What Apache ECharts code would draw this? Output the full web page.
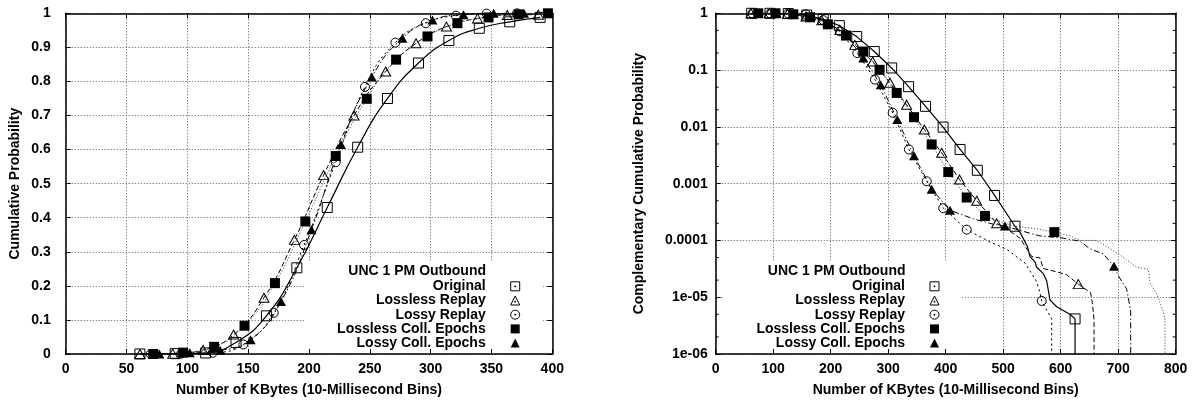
<!DOCTYPE html>
<html>
<head>
<meta charset="utf-8">
<script src="https://cdn.jsdelivr.net/npm/echarts@6/dist/echarts.min.js"></script>
<style>
  html, body { margin: 0; padding: 0; background: #fff; }
  #chart { width: 1196px; height: 402px; }
</style>
</head>
<body>
<div id="chart"></div>
<script>
// ---- Series names and legend heading ----
const seriesNames = ['Original', 'Lossless Replay', 'Lossy Replay', 'Lossless Coll. Epochs', 'Lossy Coll. Epochs'];
const legendTitle = 'UNC 1 PM Outbound';
const xAxisTitle = 'Number of KBytes (10-Millisecond Bins)';
const cdfAxisTitle = 'Cumulative Probability';
const ccdfAxisTitle = 'Complementary Cumulative Probability';

// ---- Left panel: cumulative distribution, [KBytes, probability] ----
const cdfOriginal = [[61, 0], [90, 0.001], [115, 0.003], [140, 0.034], [165, 0.112], [190, 0.253], [215, 0.43], [240, 0.607], [264.5, 0.75], [290, 0.854], [315, 0.92], [340, 0.956], [365, 0.975], [390, 0.988]];
const cdfLosslessReplay = [[61, 0], [88, 0.001], [113, 0.012], [138, 0.057], [163, 0.165], [188, 0.335], [212, 0.525], [237, 0.7], [263, 0.829], [288, 0.912], [313, 0.961], [338.5, 0.985], [363, 0.995], [388.5, 0.996]];
const cdfLossyReplay = [[70, 0], [95, 0.001], [121, 0.004], [146, 0.028], [171, 0.121], [196, 0.32], [222, 0.563], [246, 0.784], [271, 0.914], [296, 0.971], [320.7, 0.993], [346, 0.999], [371, 1]];
const cdfLosslessEpochs = [[72, 0], [96.5, 0.004], [122, 0.021], [147, 0.083], [172, 0.208], [197, 0.389], [222, 0.581], [247.5, 0.749], [271.6, 0.864], [297.4, 0.932], [322, 0.971], [347.6, 0.988], [372.3, 0.997], [396.4, 1]];
const cdfLossyEpochs = [[77, 0], [102, 0.004], [127, 0.011], [152, 0.042], [177, 0.154], [202, 0.365], [226.3, 0.615], [251.6, 0.813], [276.8, 0.927], [301.5, 0.98], [327, 0.996], [351.8, 1], [376.7, 1]];

// ---- Right panel: complementary CDF, curves ----
// (a final point far below the axis minimum makes each curve drop to the bottom edge)
const ccdfOriginalLine = [[62.6, 1], [94.4, 1], [126.3, 0.99], [158.3, 0.93], [187, 0.78], [215, 0.606], [245.2, 0.389], [275.8, 0.212], [306, 0.109], [335.5, 0.051], [365, 0.023], [395.5, 0.0099], [425, 0.004], [455, 0.00172], [485, 0.00062], [503, 0.00033], [520.5, 0.000178], [529, 0.00014], [542, 7.9e-5], [546.6, 5.2e-5], [555.3, 4.2e-5], [558, 3.4e-5], [569.8, 2.6e-5], [575.6, 1.95e-5], [581.4, 8.9e-6], [593, 6.8e-6], [616, 5e-6], [625, 4.15e-6], [625, 1e-8]];
const ccdfLosslessReplayLine = [[61.4, 1], [93, 1], [125, 0.985], [157, 0.88], [184.5, 0.75], [216, 0.51], [242, 0.278], [273, 0.142], [303, 0.06], [332, 0.0246], [362.8, 0.009], [393, 0.0035], [424, 0.00118], [454, 0.0005], [488.7, 0.0002], [511.8, 0.000145], [529, 0.00011], [549.6, 5.2e-5], [564, 4.9e-5], [569.8, 3.2e-5], [593, 2.8e-5], [610, 2.5e-5], [630.6, 1.7e-5], [652, 1.2e-5], [655, 8e-6], [658, 4e-6], [658, 1e-8]];
const ccdfLossyReplayLine = [[64, 1], [95, 1], [126, 0.995], [157, 0.96], [187, 0.76], [216, 0.48], [246.3, 0.199], [277, 0.068], [307.8, 0.0177], [336, 0.004], [367, 0.0011], [395.8, 0.00037], [436.5, 0.000155], [477, 9.4e-5], [506, 7e-5], [538, 4e-5], [558, 1.9e-5], [564, 1.2e-5], [567, 8.6e-6], [575.6, 5.9e-6], [584.3, 4.2e-6], [584.3, 1e-8]];
const ccdfLosslessEpochsLine = [[74, 1], [104, 1], [135, 0.96], [164, 0.85], [195, 0.64], [226.6, 0.405], [256.7, 0.212], [285, 0.101], [314.8, 0.0396], [344.9, 0.0148], [375.6, 0.0049], [404.5, 0.0016], [436.5, 0.00057], [468.3, 0.00027], [517.6, 0.00018], [558, 0.00016], [589, 0.00014], [616, 0.00012], [633.6, 0.0001], [662.6, 0.0001], [700, 5.8e-5], [732, 3.4e-5], [752.3, 3.1e-5], [755.3, 1.8e-5], [767, 1.15e-5], [778.6, 5.5e-6], [781.4, 4.2e-6], [781.4, 1e-8]];
const ccdfLossyEpochsLine = [[106, 1], [136, 0.98], [166, 0.9], [196, 0.69], [226.5, 0.41], [256.7, 0.163], [287, 0.055], [315.8, 0.0135], [344.9, 0.0031], [375.6, 0.0008], [407.5, 0.00034], [448, 0.00024], [482.8, 0.000193], [503, 0.00018], [529, 0.00015], [564, 0.00012], [598.8, 0.000112], [633.6, 9.7e-5], [651, 7.1e-5], [674, 5.8e-5], [692.7, 3.5e-5], [700, 2.4e-5], [714.6, 1.4e-5], [717.5, 1e-5], [721.7, 5.5e-6], [721.7, 1e-8]];

// ---- Right panel: marked sample points ----
const ccdfOriginalMarks = [[62.6, 1], [94.4, 1], [126.3, 0.99], [158.3, 0.93], [187, 0.78], [215, 0.606], [245.2, 0.389], [275.8, 0.212], [306, 0.109], [335.5, 0.051], [365, 0.023], [395.5, 0.0099], [425, 0.004], [455, 0.00172], [485, 0.00062], [520.5, 0.000178], [625, 4.15e-6]];
const ccdfLosslessReplayMarks = [[61.4, 1], [93, 1], [125, 0.985], [157, 0.88], [184.5, 0.75], [216, 0.51], [242, 0.278], [273, 0.142], [303, 0.06], [332, 0.0246], [362.8, 0.009], [393, 0.0035], [424, 0.00118], [454, 0.0005], [488.7, 0.0002], [630.6, 1.7e-5]];
const ccdfLossyReplayMarks = [[64, 1], [95, 1], [126, 0.995], [157, 0.96], [187, 0.76], [216, 0.48], [246.3, 0.199], [277, 0.068], [307.8, 0.0177], [336, 0.004], [367, 0.0011], [395.8, 0.00037], [436.5, 0.000155], [567, 8.6e-6]];
const ccdfLosslessEpochsMarks = [[74, 1], [104, 1], [135, 0.96], [164, 0.85], [195, 0.64], [226.6, 0.405], [256.7, 0.212], [285, 0.101], [314.8, 0.0396], [344.9, 0.0148], [375.6, 0.0049], [404.5, 0.0016], [436.5, 0.00057], [468.3, 0.00027], [589, 0.00014]];
const ccdfLossyEpochsMarks = [[106, 1], [136, 0.98], [166, 0.9], [196, 0.69], [226.5, 0.41], [256.7, 0.163], [287, 0.055], [315.8, 0.0135], [344.9, 0.0031], [375.6, 0.0008], [407.5, 0.00034], [503, 0.00018], [692.7, 3.5e-5]];

// ---- Axis tick labels ----
const ccdfTickLabels = ['1e-06', '1e-05', '0.0001', '0.001', '0.01', '0.1', '1'];
const ccdfMinorTicks = [2e-6, 5e-6, 2e-5, 5e-5, 2e-4, 5e-4, 2e-3, 5e-3, 0.02, 0.05, 0.2, 0.5];

const cdfData = [cdfOriginal, cdfLosslessReplay, cdfLossyReplay, cdfLosslessEpochs, cdfLossyEpochs];
const ccdfLines = [ccdfOriginalLine, ccdfLosslessReplayLine, ccdfLossyReplayLine, ccdfLosslessEpochsLine, ccdfLossyEpochsLine];
const ccdfMarks = [ccdfOriginalMarks, ccdfLosslessReplayMarks, ccdfLossyReplayMarks, ccdfLosslessEpochsMarks, ccdfLossyEpochsMarks];

// ---- Presentation ----
const FONT = '"Liberation Sans", Arial, Helvetica, sans-serif';
const HOLLOW = 'rgba(0,0,0,0)';
const looks = [
  { dash: 'solid', color: '#000', width: 1.2, symbol: 'rect', size: 10, fill: HOLLOW, border: 1,
    icon: 'path://M0,0H10V10H0Z M4.5,4.5H5.5V5.5H4.5Z', iconStyle: { color: '#fff', borderColor: '#000', borderWidth: 1 } },
  { dash: [5, 2.6], color: '#000', width: 1, symbol: 'triangle', size: [10, 9], fill: HOLLOW, border: 1,
    icon: 'path://M5,0L10,10L0,10Z M4.5,5.8H5.5V6.8H4.5Z', iconStyle: { color: '#fff', borderColor: '#000', borderWidth: 1 } },
  { dash: [2.2, 3], color: '#000', width: 1, symbol: 'circle', size: 9, fill: HOLLOW, border: 1,
    icon: 'path://M0,5A5,5,0,1,1,10,5A5,5,0,1,1,0,5Z M4.5,4.5H5.5V5.5H4.5Z', iconStyle: { color: '#fff', borderColor: '#000', borderWidth: 1 } },
  { dash: [1.2, 1.8], color: '#555', width: 1, symbol: 'rect', size: 10, fill: '#000', border: 0,
    icon: 'rect', iconStyle: { color: '#000', borderWidth: 0 } },
  { dash: [6, 2.5, 1.3, 2.5], color: '#000', width: 1, symbol: 'triangle', size: [10, 9], fill: '#000', border: 0,
    icon: 'triangle', iconStyle: { color: '#000', borderWidth: 0 } }
];

const textBase = { fontFamily: FONT, fontWeight: 'bold', fontSize: 14, color: '#000' };
const gridLine = { show: true, lineStyle: { color: '#555', type: [1, 2], width: 1 } };
const frameLine = { show: true, onZero: false, lineStyle: { color: '#000', width: 1.5 } };
const majorTick = { show: true, inside: true, length: 5, lineStyle: { color: '#000', width: 1 } };

function valueAxis(grid, pos, min, max, interval, extra) {
  return Object.assign({
    type: 'value', gridIndex: grid, position: pos, min: min, max: max, interval: interval,
    axisLine: frameLine, axisTick: majorTick, splitLine: { show: false },
    axisLabel: { show: false }
  }, extra || {});
}
function logAxis(grid, pos, extra) {
  return Object.assign({
    type: 'log', logBase: 10, gridIndex: grid, position: pos, min: 1e-6, max: 1, splitNumber: 6,
    axisLine: frameLine, axisTick: majorTick, splitLine: { show: false }, minorTick: { show: false },
    axisLabel: { show: false }
  }, extra || {});
}

const xAxes = [
  valueAxis(0, 'bottom', 0, 400, 50, {
    splitLine: gridLine,
    axisLabel: Object.assign({ show: true, margin: 8 }, textBase),
    name: xAxisTitle, nameLocation: 'middle', nameGap: 29, nameTextStyle: textBase
  }),
  valueAxis(0, 'top', 0, 400, 50),
  valueAxis(1, 'bottom', 0, 800, 100, {
    splitLine: gridLine,
    axisLabel: Object.assign({ show: true, margin: 8 }, textBase),
    name: xAxisTitle, nameLocation: 'middle', nameGap: 29, nameTextStyle: textBase
  }),
  valueAxis(1, 'top', 0, 800, 100)
];
const yAxes = [
  valueAxis(0, 'left', 0, 1, 0.1, {
    splitLine: gridLine,
    axisLabel: Object.assign({ show: true, margin: 15 }, textBase),
    name: cdfAxisTitle, nameLocation: 'middle', nameGap: 44, nameRotate: 90, nameTextStyle: textBase
  }),
  valueAxis(0, 'right', 0, 1, 0.1),
  logAxis(1, 'left', {
    splitLine: gridLine,
    axisLabel: Object.assign({
      show: true, margin: 8,
      formatter: function (v) { return ccdfTickLabels[Math.round(Math.log10(v)) + 6]; }
    }, textBase),
    name: ccdfAxisTitle, nameLocation: 'middle', nameGap: 70, nameRotate: 90, nameTextStyle: textBase
  }),
  logAxis(1, 'right')
];

const series = [];
seriesNames.forEach(function (name, i) {
  const lk = looks[i];
  // cumulative curve with its sample markers
  series.push({
    type: 'line', name: name, xAxisIndex: 0, yAxisIndex: 0, data: cdfData[i],
    smooth: 0.5, showSymbol: true, showAllSymbol: true,
    symbol: lk.symbol, symbolSize: lk.size,
    itemStyle: { color: lk.fill, borderColor: '#000', borderWidth: lk.border },
    lineStyle: { color: lk.color, width: lk.width, type: lk.dash },
    emphasis: { disabled: true }, z: 2
  });
  // complementary curve
  series.push({
    type: 'line', name: name, xAxisIndex: 2, yAxisIndex: 2, data: ccdfLines[i],
    showSymbol: false, lineStyle: { color: lk.color, width: lk.width, type: lk.dash },
    emphasis: { disabled: true }, z: 2
  });
  // complementary markers
  series.push({
    type: 'scatter', name: name, xAxisIndex: 2, yAxisIndex: 2, data: ccdfMarks[i],
    symbol: lk.symbol, symbolSize: lk.size,
    itemStyle: { color: lk.fill, borderColor: '#000', borderWidth: lk.border, opacity: 1 },
    emphasis: { disabled: true }, z: 3
  });
});

// minor ticks of the logarithmic axis (2 and 5 of each decade), on both edges
series.push({
  type: 'custom', name: 'minor-ticks', xAxisIndex: 2, yAxisIndex: 2, silent: true, clip: false,
  data: ccdfMinorTicks.map(function (v) { return [0, v]; }),
  renderItem: function (params, api) {
    const v = api.value(1);
    const a = api.coord([0, v]);
    const b = api.coord([800, v]);
    const st = { stroke: '#000', lineWidth: 1 };
    return {
      type: 'group', children: [
        { type: 'line', shape: { x1: a[0], y1: a[1], x2: a[0] + 3, y2: a[1] }, style: st },
        { type: 'line', shape: { x1: b[0] - 3, y1: b[1], x2: b[0], y2: b[1] }, style: st }
      ]
    };
  },
  z: 2
});

const legendItems = seriesNames.map(function (n, i) {
  return { name: n, icon: looks[i].icon, itemStyle: looks[i].iconStyle };
});
function legendAt(rightPx) {
  return {
    data: legendItems, orient: 'vertical', align: 'right',
    right: rightPx, top: 279.3, padding: 0, itemGap: 0.2, itemWidth: 9, itemHeight: 9,
    textStyle: Object.assign({ lineHeight: 14, padding: [0, 20, 0, 0] }, textBase)
  };
}

// key backgrounds (hide the grid behind the key) and key headings
const graphics = [
  { type: 'rect', z: 1, silent: true, shape: { x: 305, y: 262, width: 238, height: 87 }, style: { fill: '#fff' } },
  { type: 'rect', z: 1, silent: true, shape: { x: 723, y: 262, width: 239, height: 87 }, style: { fill: '#fff' } },
  { type: 'text', z: 5, silent: true, style: { text: legendTitle, x: 486, y: 271, align: 'right', verticalAlign: 'middle', font: 'bold 14px ' + FONT, fill: '#000' } },
  { type: 'text', z: 5, silent: true, style: { text: legendTitle, x: 905.5, y: 271, align: 'right', verticalAlign: 'middle', font: 'bold 14px ' + FONT, fill: '#000' } }
];

const chart = echarts.init(document.getElementById('chart'), null, { renderer: 'canvas' });
chart.setOption({
  animation: false,
  backgroundColor: '#fff',
  textStyle: { fontFamily: FONT },
  grid: [
    { left: 65.7, top: 13.3, width: 486.6, height: 342.3 },
    { left: 715.7, top: 13.3, width: 460, height: 342.3 }
  ],
  xAxis: xAxes,
  yAxis: yAxes,
  legend: [legendAt(675.8), legendAt(256.5)],
  graphic: graphics,
  series: series
});
</script>
</body>
</html>
